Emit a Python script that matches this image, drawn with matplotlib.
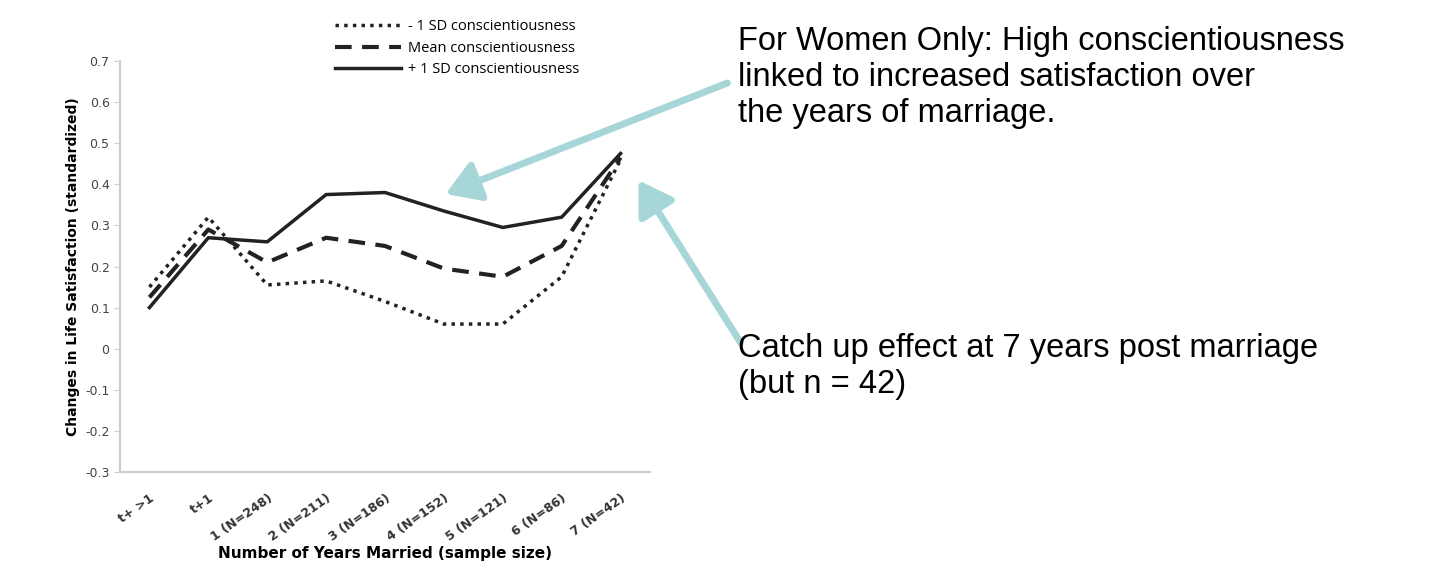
import matplotlib.pyplot as plt
from matplotlib.patches import FancyArrowPatch

categories = ['t+ >1', 't+1', '1 (N=248)', '2 (N=211)', '3 (N=186)', '4 (N=152)',
              '5 (N=121)', '6 (N=86)', '7 (N=42)']
low_sd = [0.15, 0.32, 0.155, 0.165, 0.115, 0.06, 0.06, 0.175, 0.46]
mean_c = [0.125, 0.29, 0.21, 0.27, 0.25, 0.195, 0.175, 0.25, 0.465]
high_sd = [0.10, 0.27, 0.26, 0.375, 0.38, 0.335, 0.295, 0.32, 0.475]

W, H = 1440, 581
fig = plt.figure(figsize=(14.4, 5.81), dpi=100)
ax = fig.add_axes([120 / W, 1 - 472 / H, 530 / W, 411 / H])

x = range(len(categories))
l1, = ax.plot(x, low_sd, color='#222222', lw=2.5, linestyle=(0, (1, 1.5)))
l2, = ax.plot(x, mean_c, color='#222222', lw=3, linestyle=(0, (4, 2.5)))
l3, = ax.plot(x, high_sd, color='#222222', lw=2.5)

ax.set_xlim(-0.5, len(categories) - 0.5)
ax.set_ylim(-0.3, 0.7)
ax.set_yticks([-0.3, -0.2, -0.1, 0, 0.1, 0.2, 0.3, 0.4, 0.5, 0.6, 0.7])
ax.set_yticklabels(['-0.3', '-0.2', '-0.1', '0', '0.1', '0.2', '0.3', '0.4', '0.5', '0.6', '0.7'],
                   fontsize=9, color='#444444')
ax.set_xticks(list(x))
ax.set_xticklabels(categories, rotation=35, ha='right', rotation_mode='anchor',
                   fontsize=9, fontweight='bold', color='#333333')
ax.tick_params(axis='both', length=4, color='#cccccc')
ax.tick_params(axis='x', length=0, pad=14)
for s in ['top', 'right']:
    ax.spines[s].set_visible(False)
for s in ['left', 'bottom']:
    ax.spines[s].set_color('#cccccc')
    ax.spines[s].set_linewidth(1.5)
ax.set_ylabel('Changes in Life Satisfaction (standardized)', fontsize=10, fontweight='bold')
ax.set_xlabel('Number of Years Married (sample size)', fontsize=11, fontweight='bold', labelpad=2)

fig.legend([l1, l2, l3],
           ['- 1 SD conscientiousness', 'Mean conscientiousness', '+ 1 SD conscientiousness'],
           loc='upper left', bbox_to_anchor=(322 / W, 1 - 6 / H), frameon=False,
           fontsize=10.5, handlelength=4.5, labelspacing=0.45, handletextpad=0.5,
           prop={'family': 'Open Sans', 'size': 10.5})

teal = '#a6d6d8'
fig.text(738 / W, 1 - 26 / H,
         'For Women Only: High conscientiousness\nlinked to increased satisfaction over\nthe years of marriage.',
         fontsize=23.5, family='Liberation Sans', va='top', linespacing=1.2)
fig.text(738 / W, 1 - 333 / H, 'Catch up effect at 7 years post marriage\n(but n = 42)',
         fontsize=23.5, family='Liberation Sans', va='top', linespacing=1.2)

for start, end in [((730, 82), (443, 195)), ((742, 345), (637, 178))]:
    fig.add_artist(FancyArrowPatch(
        (start[0] / W, 1 - start[1] / H), (end[0] / W, 1 - end[1] / H),
        transform=fig.transFigure, arrowstyle='-|>,head_length=0.8,head_width=0.5',
        color=teal, lw=5, mutation_scale=25))

fig.savefig('out.png', dpi=100)
